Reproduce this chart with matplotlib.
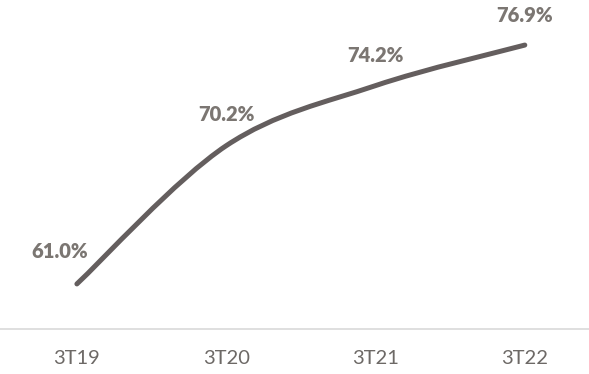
import numpy as np
import matplotlib.pyplot as plt
from matplotlib.path import Path
from matplotlib.patches import PathPatch

periods = ["3T19", "3T20", "3T21", "3T22"]
share = [61.0, 70.2, 74.2, 76.9]

line_col = "#645e5e"
text_col = "#7b7672"

fig = plt.figure(figsize=(5.89, 3.74), dpi=100)
ax = fig.add_axes([0, 1 - 329 / 374, 1, 329 / 374])
ax.set_xlim(-0.515, 3.43)
ax.set_ylim(58.0, 79.9)

x = np.arange(len(periods))
y = np.array(share)

# smoothed line: cubic bezier segments with catmull-rom style handles
verts = [(x[0], y[0])]
codes = [Path.MOVETO]
n = len(x)
for i in range(n - 1):
    p0 = (x[max(i - 1, 0)], y[max(i - 1, 0)])
    p1 = (x[i], y[i])
    p2 = (x[i + 1], y[i + 1])
    p3 = (x[min(i + 2, n - 1)], y[min(i + 2, n - 1)])
    c1 = (p1[0] + (p2[0] - p0[0]) / 6, p1[1] + (p2[1] - p0[1]) / 6)
    c2 = (p2[0] - (p3[0] - p1[0]) / 6, p2[1] - (p3[1] - p1[1]) / 6)
    verts += [c1, c2, p2]
    codes += [Path.CURVE4] * 3
ax.add_patch(PathPatch(Path(verts, codes), fill=False, edgecolor=line_col,
                       linewidth=3.6, capstyle="round", joinstyle="round"))

offsets = [(-17, 32), (0, 31), (0, 30), (0, 30)]
for xi, yi, (dx, dy) in zip(x, y, offsets):
    ax.annotate(f"{yi:.1f}%", (xi, yi), xytext=(dx, dy), textcoords="offset pixels",
                ha="center", va="center", fontsize=14.5, fontweight="heavy",
                color=text_col, family="Lato")

for s in ["top", "right", "left"]:
    ax.spines[s].set_visible(False)
ax.spines["bottom"].set_color("#d9d9d9")
ax.spines["bottom"].set_linewidth(1.2)
ax.set_yticks([])
ax.set_xticks(x)
ax.set_xticklabels(periods, fontsize=14.5, color="#6d6966", family="Lato")
ax.tick_params(axis="x", length=0, pad=15)

fig.savefig("out.png", dpi=100)
